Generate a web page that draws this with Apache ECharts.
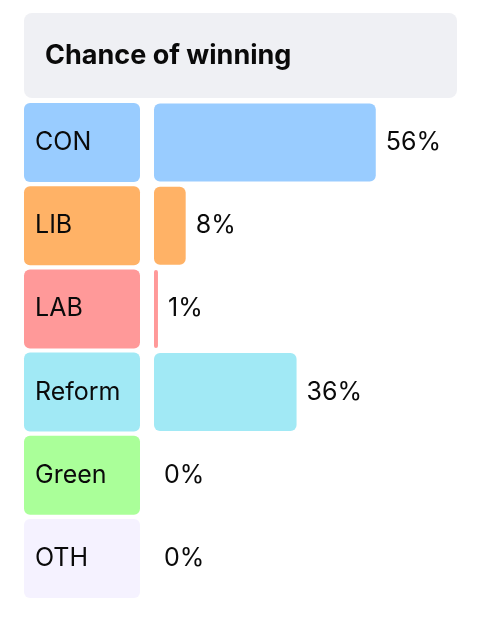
<!DOCTYPE html>
<html>
<head>
<meta charset="utf-8">
<script src="https://cdn.jsdelivr.net/npm/echarts@6/dist/echarts.min.js"></script>
<style>
html,body{margin:0;padding:0;background:#fff;}
#chart{width:486px;height:619px;}
</style>
</head>
<body>
<div id="chart"></div>
<script>
var title = 'Chance of winning';
var parties = ['CON', 'LIB', 'LAB', 'Reform', 'Green', 'OTH'];
var keys = ['con', 'lib', 'lab', 'reform', 'green', 'oth'];
var chances = [56, 8, 1, 36, 0, 0];
var colors = ['#99ccff', '#ffb266', '#ff9999', '#a1e9f5', '#aaff99', '#f5f2ff'];

var FONT = 'Inter, "Noto Sans", sans-serif';
var rich = {};
keys.forEach(function (k, i) {
  rich[k] = {
    backgroundColor: colors[i],
    borderRadius: 6,
    width: 105,
    height: 79,
    padding: [0, 0, 0, 11],
    align: 'left',
    verticalAlign: 'middle',
    lineHeight: 79,
    fontSize: 25,
    fontFamily: FONT,
    color: '#0a0a0a'
  };
});

var chart = echarts.init(document.getElementById('chart'), null, {renderer: 'canvas'});
chart.setOption({
  animation: false,
  backgroundColor: '#fff',
  graphic: [
    {type: 'rect', left: 24, top: 13, shape: {width: 433, height: 85, r: 8}, style: {fill: '#eff0f4'}, z: 0},
    {type: 'text', left: 45, top: 42, style: {text: title, font: 'bold 27px ' + FONT, fill: '#0a0a0a'}, z: 1}
  ],
  grid: {left: 154, right: 486 - 154 - 396, top: 101, bottom: 19, containLabel: false, outerBoundsMode: 'none'},
  xAxis: {type: 'value', min: 0, max: 100, show: false},
  yAxis: {
    type: 'category',
    data: parties,
    inverse: true,
    axisLine: {show: false},
    axisTick: {show: false},
    splitLine: {show: false},
    axisLabel: {
      margin: 14,
      align: 'right',
      formatter: function (v, i) { return '{' + keys[i] + '|' + v + '}'; },
      rich: rich
    }
  },
  series: [{
    type: 'bar',
    data: chances.map(function (v, i) { return {value: v, itemStyle: {color: colors[i]}}; }),
    barWidth: 78,
    itemStyle: {borderRadius: 6},
    label: {
      show: true,
      position: 'right',
      distance: 10,
      formatter: '{c}%',
      fontSize: 25,
      fontFamily: FONT,
      color: '#0a0a0a'
    }
  }]
});
</script>
</body>
</html>
